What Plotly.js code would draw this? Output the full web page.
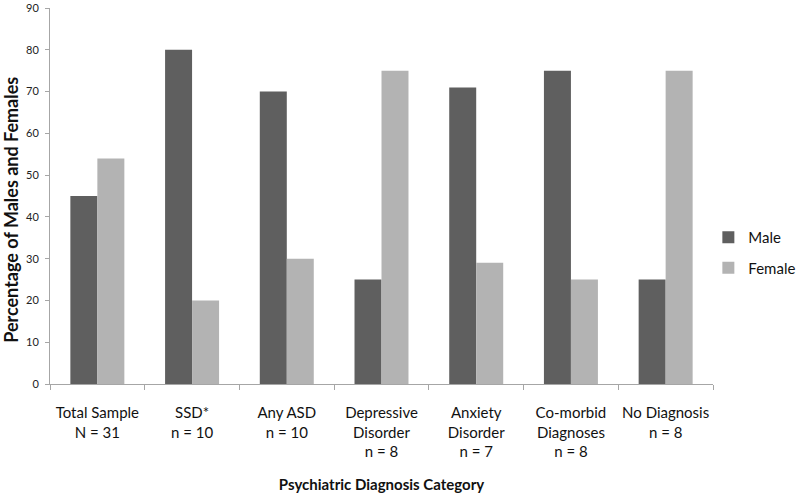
<!DOCTYPE html>
<html>
<head>
<meta charset="utf-8">
<script src="https://cdn.plot.ly/plotly-3.0.1.min.js"></script>
<style>
  html, body { margin: 0; padding: 0; background: #fff; }
  #chart { width: 800px; height: 494px; }
</style>
</head>
<body>
<div id="chart"></div>
<script>
// Category labels (shown on two or three lines)
const categories = [
    'Total Sample<br>N = 31',
    'SSD*<br>n = 10',
    'Any ASD<br>n = 10',
    'Depressive<br>Disorder<br>n = 8',
    'Anxiety<br>Disorder<br>n = 7',
    'Co-morbid<br>Diagnoses<br>n = 8',
    'No Diagnosis<br>n = 8'
];

// Percentages per group
const maleValues = [45, 80, 70, 25, 71, 75, 25];
const femaleValues = [54, 20, 30, 75, 29, 25, 75];

const yTicks = [0, 10, 20, 30, 40, 50, 60, 70, 80, 90];

const FONT = 'Lato, "Liberation Sans", Arial, sans-serif';
const AXIS_GREY = '#a6a6a6';

function makeTrace(name, values, color) {
    return {
        type: 'bar',
        name: name,
        legendgroup: name,
        x: categories,
        y: values,
        marker: { color: color, line: { width: 0 } },
        hoverinfo: 'skip'
    };
}

const data = [
    makeTrace('Male', maleValues, '#5f5f5f'),
    makeTrace('Female', femaleValues, '#b3b3b3')
];

const layout = {
    width: 800,
    height: 494,
    margin: { l: 50, r: 87, t: 8, b: 110, autoexpand: false },
    paper_bgcolor: '#ffffff',
    plot_bgcolor: '#ffffff',
    font: { family: FONT, color: '#111111', size: 15 },
    barmode: 'group',
    bargap: 0.43,
    bargroupgap: 0,
    showlegend: true,
    legend: {
        x: 0.993,
        xanchor: 'left',
        y: 0.35,
        yanchor: 'middle',
        traceorder: 'grouped',
        tracegroupgap: 8,
        font: { family: FONT, size: 15, color: '#111111' },
        bgcolor: 'rgba(0,0,0,0)'
    },
    xaxis: {
        type: 'category',
        showline: true,
        linecolor: AXIS_GREY,
        linewidth: 1,
        ticks: 'outside',
        tickson: 'boundaries',
        ticklen: 5,
        tickcolor: AXIS_GREY,
        tickangle: 0,
        ticklabelstandoff: 15,
        showgrid: false,
        zeroline: false,
        tickfont: { family: FONT, size: 15, color: '#111111' },
        title: {
            text: '<b>Psychiatric Diagnosis Category</b>',
            font: { family: FONT, size: 15, color: '#111111' },
            standoff: 20
        }
    },
    yaxis: {
        range: [0, 90],
        tickvals: yTicks,
        ticktext: yTicks.map(String),
        showline: true,
        linecolor: AXIS_GREY,
        linewidth: 1,
        ticks: 'outside',
        ticklen: 4,
        tickcolor: AXIS_GREY,
        ticklabelstandoff: 4,
        showgrid: false,
        zeroline: false,
        tickfont: { family: FONT, size: 11, color: '#222222' }
    },
    annotations: [{
        text: '<b>Percentage of Males and Females</b>',
        xref: 'paper',
        yref: 'paper',
        x: -0.059,
        y: 0.463,
        xanchor: 'center',
        yanchor: 'middle',
        textangle: -90,
        showarrow: false,
        font: { family: FONT, size: 18, color: '#111111' }
    }]
};

Plotly.newPlot('chart', data, layout, { displayModeBar: false, staticPlot: true });
</script>
</body>
</html>
